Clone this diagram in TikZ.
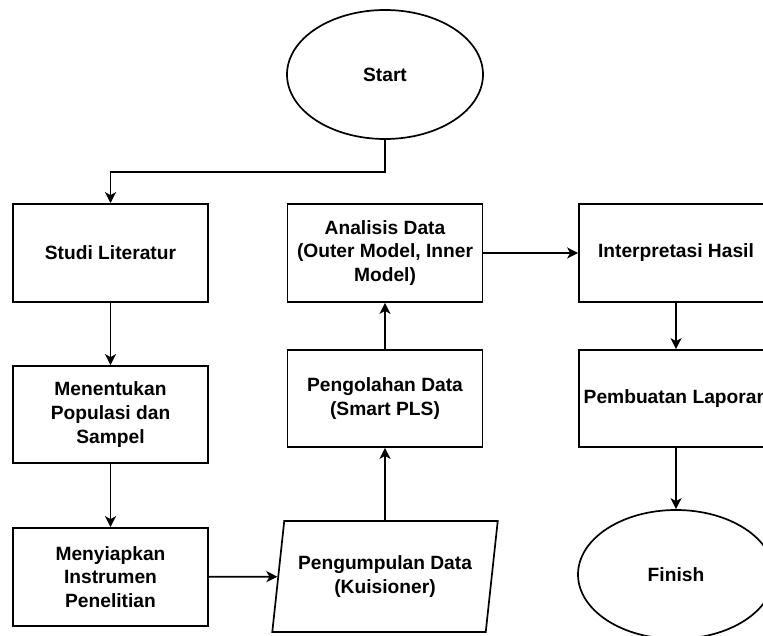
\documentclass[tikz,border=0pt]{standalone}
\usepackage{fontspec}
\setmainfont{Liberation Sans}
\usepackage{tikz}
\usetikzlibrary{positioning,arrows.meta,shapes.geometric}

\begin{document}
\begin{tikzpicture}[x=1pt, y=-1pt, font=\fontsize{19.2}{23.6}\selectfont\bfseries,
  proses/.style={draw, line width=1.7pt, rectangle, minimum width=195, minimum height=98, inner sep=0pt, align=center},
  terminal/.style={draw, line width=1.7pt, ellipse, minimum width=196, minimum height=129, inner sep=0pt, align=center},
  io/.style={draw, line width=1.7pt, trapezium, trapezium left angle=76, trapezium right angle=104, trapezium stretches=true, minimum width=226, minimum height=111, inner sep=0pt, align=center},
  alur/.style={line width=1.7pt, -{Stealth[length=11pt, width=11pt, inset=3pt]}}]
\useasboundingbox (0,0) rectangle (763,636);
\node[terminal] (start) at (385,74.5) {Start};
\node[proses] (studi) at (110.5,253) {Studi Literatur};
\node[proses, minimum height=97] (populasi) at (110.5,414.5) {Menentukan\\Populasi dan\\Sampel};
\node[proses] (instrumen) at (110.5,577) {Menyiapkan\\Instrumen\\Penelitian};
\node[io] (kuisioner) at (385,576.5) {Pengumpulan Data\\(Kuisioner)};
\node[proses, minimum height=97] (olah) at (385,398.5) {Pengolahan Data\\(Smart PLS)};
\node[proses] (analisis) at (385,253) {Analisis Data\\(Outer Model, Inner\\Model)};
\node[proses, minimum width=194] (hasil) at (676,253) {Interpretasi Hasil};
\node[proses, minimum width=194, minimum height=97] (laporan) at (676,398.5) {Pembuatan Laporan};
\node[terminal] (finish) at (676,574.5) {Finish};
\coordinate (knee) at (0,172);
\draw[alur] (start) -- (start |- knee) -| (studi);
\draw[alur] (studi) -- (populasi);
\draw[alur] (populasi) -- (instrumen);
\draw[alur] (instrumen) -- (kuisioner);
\draw[alur] (kuisioner) -- (olah);
\draw[alur] (olah) -- (analisis);
\draw[alur] (analisis) -- (hasil);
\draw[alur] (hasil) -- (laporan);
\draw[alur] (laporan) -- (finish);
\end{tikzpicture}
\end{document}
